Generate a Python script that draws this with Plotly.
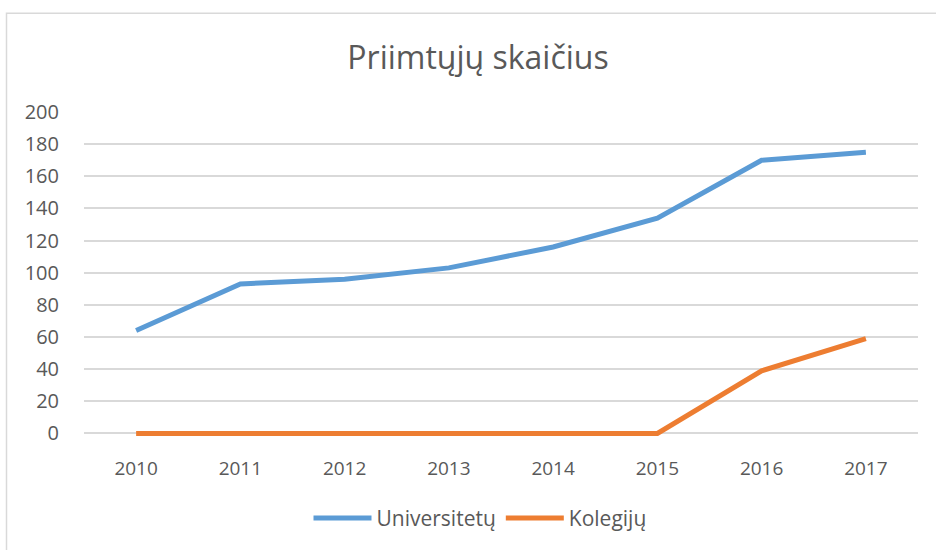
import plotly.graph_objects as go

years = ["2010", "2011", "2012", "2013", "2014", "2015", "2016", "2017"]
universitetu = [64, 93, 96, 103, 116, 134, 170, 175]
kolegiju = [0, 0, 0, 0, 0, 0, 39, 59]
y_ticks = [0, 20, 40, 60, 80, 100, 120, 140, 160, 180, 200]

FONT = "'Open Sans', Lato, sans-serif"
GRAY = "#595959"

fig = go.Figure()
fig.add_trace(go.Scatter(x=years, y=universitetu, name="Universitetų", mode="lines",
                         line=dict(color="#5B9BD5", width=5, shape="linear")))
fig.add_trace(go.Scatter(x=years, y=kolegiju, name="Kolegijų", mode="lines",
                         line=dict(color="#ED7D31", width=5, shape="linear")))

fig.update_layout(
    width=936, height=550,
    margin=dict(l=84, r=18, t=112, b=113),
    paper_bgcolor="white", plot_bgcolor="white",
    font=dict(family=FONT, color=GRAY, size=20),
    title=dict(text="Priimtųjų skaičius", x=478 / 936, xanchor="center",
               y=1 - 58 / 550, yanchor="middle",
               font=dict(size=32, color=GRAY, family=FONT)),
    legend=dict(orientation="h", x=(480 - 84) / 834, xanchor="center", y=-0.25, yanchor="middle",
                font=dict(size=21, color=GRAY), itemwidth=58, traceorder="normal",
                bgcolor="rgba(0,0,0,0)"),
    showlegend=True,
)
fig.update_xaxes(type="category", range=[-0.5, 7.5], showgrid=False, showline=False,
                 zeroline=False, ticks="outside", ticklen=15, tickcolor="rgba(0,0,0,0)",
                 tickfont=dict(size=19, color=GRAY))
fig.update_yaxes(range=[-1.6, 200], tickvals=y_ticks, showgrid=True, gridcolor="#D9D9D9",
                 gridwidth=1.5, zeroline=False, showline=False,
                 ticks="outside", ticklen=20, tickcolor="rgba(0,0,0,0)",
                 tickfont=dict(size=20, color=GRAY))

# chart-area border (extends past the window on the right/bottom)
fig.add_shape(type="rect", xref="paper", yref="paper",
              x0=(6.5 - 84) / 834, x1=1.2, y0=-0.6, y1=(437 - 13) / 325,
              line=dict(color="#D9D9D9", width=1.5), fillcolor="rgba(0,0,0,0)", layer="below")

fig.write_html("out.html", config={"displayModeBar": False},
               post_script="document.body.style.margin='0px';document.body.style.overflow='hidden';")
